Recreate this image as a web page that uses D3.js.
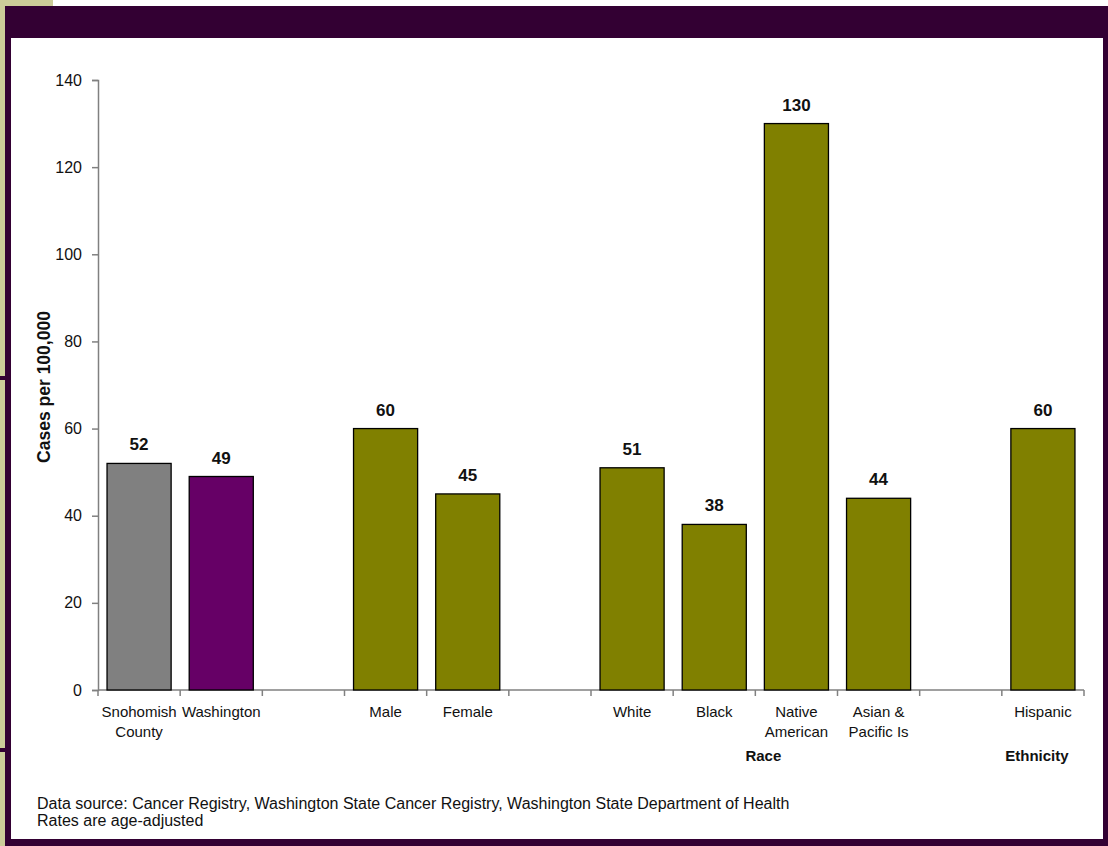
<!DOCTYPE html>
<html>
<head>
<meta charset="utf-8">
<script src="https://cdn.jsdelivr.net/npm/d3@7"></script>
<style>
  html, body { margin: 0; padding: 0; background: #ffffff; }
  svg { display: block; font-family: "Liberation Sans", Arial, sans-serif; }
</style>
</head>
<body>
<svg id="chart" width="1108" height="846"></svg>
<script>
// Incidence by group (cases per 100,000, age-adjusted)
const categories = ["Snohomish\nCounty", "Washington", "", "Male", "Female", " ",
                    "White", "Black", "Native\nAmerican", "Asian &\nPacific Is", "  ", "Hispanic"];
const values = [52, 49, null, 60, 45, null, 51, 38, 130, 44, null, 60];
const barColors = ["#808080", "#660066", null, "#808000", "#808000", null,
                   "#808000", "#808000", "#808000", "#808000", null, "#808000"];
const yTicks = [0, 20, 40, 60, 80, 100, 120, 140];
const groupLabels = [
  { text: "Race", from: "White", to: "Asian &\nPacific Is" },
  { text: "Ethnicity", from: "Hispanic", to: "Hispanic" }
];
const notes = [
  "Data source: Cancer Registry, Washington State Cancer Registry, Washington State Department of Health",
  "Rates are age-adjusted"
];

const svg = d3.select("#chart");
const W = 1108, H = 846;

// Slide frame: khaki edge, dark plum border and header band
svg.append("rect").attr("x", 0).attr("y", 0).attr("width", W).attr("height", H).attr("fill", "#ffffff");
svg.append("rect").attr("x", 0).attr("y", 0).attr("width", 53).attr("height", 6).attr("fill", "#cccc99");
svg.append("rect").attr("x", 0).attr("y", 6).attr("width", 5).attr("height", H - 6).attr("fill", "#cccc99");
svg.append("rect").attr("x", 5).attr("y", 6).attr("width", W - 5).attr("height", H - 6).attr("fill", "#330033");
svg.append("rect").attr("x", 0).attr("y", 376).attr("width", 11).attr("height", 4).attr("fill", "#330033");
svg.append("rect").attr("x", 0).attr("y", 748).attr("width", 11).attr("height", 4).attr("fill", "#330033");
svg.append("rect").attr("x", 11).attr("y", 38).attr("width", 1092).attr("height", 801).attr("fill", "#ffffff");

const x0 = 98, x1 = 1084, yTop = 80, yBase = 690;

const x = d3.scaleBand().domain(categories).range([x0, x1]).paddingInner(0.22).paddingOuter(0.11);
const xb = d3.scaleBand().domain(categories).range([x0, x1]);
const y = d3.scaleLinear().domain([0, 140]).range([yBase, yTop]);

const ink = "#111111";
const axisGray = "#808080";

// Y axis
const yAxis = svg.append("g").attr("transform", `translate(${x0},0)`)
  .call(d3.axisLeft(y).tickValues(yTicks).tickSize(6).tickPadding(10).tickFormat(d3.format("d")));
yAxis.select(".domain").attr("stroke", axisGray).attr("stroke-width", 1.5);
yAxis.selectAll(".tick line").attr("stroke", axisGray).attr("stroke-width", 1.5);
yAxis.selectAll(".tick text").attr("fill", ink).attr("font-size", 16)
  .attr("font-family", "Liberation Sans, Arial, sans-serif");

// Y axis title
svg.append("text")
  .attr("transform", `translate(50,387) rotate(-90)`)
  .attr("text-anchor", "middle").attr("font-size", 17.5).attr("font-weight", "bold").attr("fill", ink)
  .text("Cases per 100,000");

// X axis baseline with boundary ticks
svg.append("line").attr("x1", x0).attr("x2", x1).attr("y1", yBase).attr("y2", yBase)
  .attr("stroke", axisGray).attr("stroke-width", 1.5);
const bounds = categories.map(c => xb(c)).concat([x1]);
svg.append("g").selectAll("line").data(bounds).join("line")
  .attr("x1", d => d).attr("x2", d => d).attr("y1", yBase).attr("y2", yBase + 6)
  .attr("stroke", axisGray).attr("stroke-width", 1.5);

// Category labels (multi-line)
const lab = svg.append("g").selectAll("text").data(categories).join("text")
  .attr("text-anchor", "middle").attr("font-size", 15).attr("fill", ink)
  .attr("x", d => xb(d) + xb.bandwidth() / 2).attr("y", 717);
lab.each(function (d) {
  const lines = d.trim().split("\n");
  const t = d3.select(this);
  lines.forEach((ln, i) => {
    t.append("tspan").attr("x", xb(d) + xb.bandwidth() / 2).attr("dy", i === 0 ? 0 : 20).text(ln);
  });
});

// Bars
const data = categories.map((c, i) => ({ c, v: values[i], color: barColors[i] })).filter(d => d.v != null);
svg.append("g").selectAll("rect").data(data).join("rect")
  .attr("x", d => x(d.c)).attr("width", x.bandwidth())
  .attr("y", d => y(d.v)).attr("height", d => y(0) - y(d.v))
  .attr("fill", d => d.color).attr("stroke", "#000000").attr("stroke-width", 1.3);

// Value labels
svg.append("g").selectAll("text").data(data).join("text")
  .attr("x", d => x(d.c) + x.bandwidth() / 2).attr("y", d => y(d.v) - 13)
  .attr("text-anchor", "middle").attr("font-size", 17).attr("font-weight", "bold").attr("fill", ink)
  .text(d => d.v);

// Group labels
svg.append("g").selectAll("text").data(groupLabels).join("text")
  .attr("x", d => (xb(d.from) + xb(d.to) + xb.bandwidth()) / 2 + (d.from === d.to ? -6 : 8))
  .attr("y", 761).attr("text-anchor", "middle").attr("font-size", 15).attr("font-weight", "bold")
  .attr("fill", ink).text(d => d.text);

// Footnotes
svg.append("g").selectAll("text").data(notes).join("text")
  .attr("x", 37).attr("y", (d, i) => 809 + i * 17).attr("font-size", 16).attr("fill", ink)
  .text(d => d);
</script>
</body>
</html>
